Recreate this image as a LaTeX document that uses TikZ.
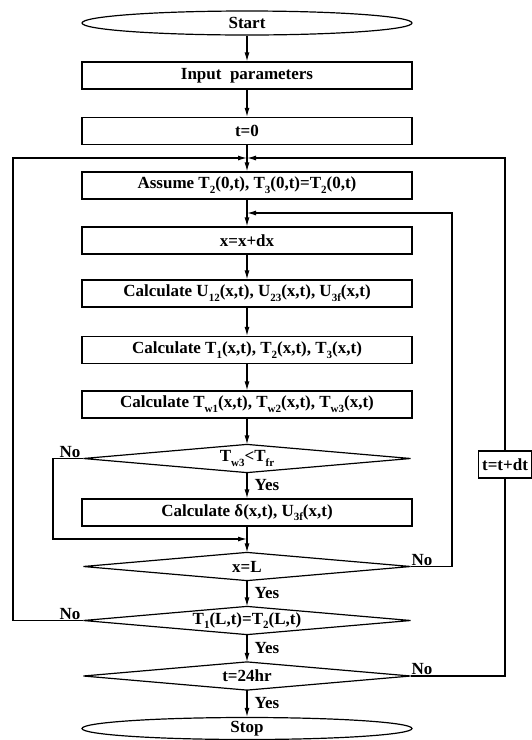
\documentclass[tikz,border=0pt]{standalone}
\usepackage{fontspec}
\setmainfont{Liberation Serif}
\usetikzlibrary{shapes.geometric,arrows.meta}
\newcommand{\sbs}[1]{\raisebox{-0.28em}{\fontsize{11}{11}\selectfont #1}}
\begin{document}
\begin{tikzpicture}[x=1pt,y=-1pt, line width=1.2pt,
  every node/.style={font=\fontsize{17}{20}\selectfont\bfseries},
  procbox/.style={draw, rectangle, minimum width=330pt, minimum height=27pt, inner sep=0pt},
  term/.style={draw, ellipse, minimum width=330pt, minimum height=24pt, inner sep=0pt},
  decbox/.style={rectangle, minimum width=326pt, minimum height=27pt, inner sep=0pt},
  arr/.style={-{Latex[length=9pt,width=5pt]}},
  nolbl/.style={inner sep=0.5pt},
  yeslbl/.style={anchor=west, inner sep=0pt, xshift=7pt}
]
\useasboundingbox (0,0) rectangle (532,740);

% nodes
\node[term]    (start)  at (247,23)    {Start};
\node[procbox] (input)  at (247,75.5)  {Input\ \ parameters};
\node[procbox] (t0)     at (247,131)   {t=0};
\node[procbox] (assume) at (247,185.5) {Assume T\sbs{2}(0,t), T\sbs{3}(0,t)=T\sbs{2}(0,t)};
\node[procbox] (xdx)    at (247,240.5) {x=x+dx};
\node[procbox] (calcu)  at (247,293.5) {Calculate U\sbs{12}(x,t), U\sbs{23}(x,t), U\sbs{3f}(x,t)};
\node[procbox] (calct)  at (247,350)   {Calculate T\sbs{1}(x,t), T\sbs{2}(x,t), T\sbs{3}(x,t)};
\node[procbox] (calctw) at (247,404.5) {Calculate T\sbs{w1}(x,t), T\sbs{w2}(x,t), T\sbs{w3}(x,t)};
\node[decbox]  (d1)     at (247,458.5) {T\sbs{w3}<T\sbs{fr}};
\node[procbox] (delta)  at (247,512.5) {Calculate δ(x,t), U\sbs{3f}(x,t)};
\node[decbox]  (xl)     at (247,566.5) {x=L};
\node[decbox]  (t12)    at (247,620.5) {T\sbs{1}(L,t)=T\sbs{2}(L,t)};
\node[decbox]  (t24)    at (247,676)   {t=24hr};
\node[term, minimum height=22pt] (stop) at (247,728.5) {Stop};
\node[draw, rectangle, minimum width=53pt, minimum height=27pt, inner sep=1pt] (tdt) at (505,464.5) {t=t+dt};

% diamonds
\foreach \d in {d1,xl,t12,t24}
  \draw (\d.west) -- (\d.north) -- (\d.east) -- (\d.south) -- cycle;

% junctions and corners
\coordinate (j1) at (247,158);
\coordinate (j2) at (247,213);
\coordinate (j3) at (247,539);
\coordinate (outl) at (13,158);
\coordinate (innr) at (452,213);
\coordinate (byp) at (53,539);

% main chain
\draw[arr] (start) -- (input);
\draw[arr] (input) -- (t0);
\draw[arr] (t0) -- (assume);
\draw[arr] (assume) -- (xdx);
\draw[arr] (xdx) -- (calcu);
\draw[arr] (calcu) -- (calct);
\draw[arr] (calct) -- (calctw);
\draw[arr] (calctw) -- (d1.north);
\draw[arr] (d1.south) -- node[yeslbl] {Yes} (delta);
\draw[arr] (delta) -- (xl.north);
\draw[arr] (xl.south) -- node[yeslbl] {Yes} (t12.north);
\draw[arr] (t12.south) -- node[yeslbl] {Yes} (t24.north);
\draw[arr] (t24.south) -- node[yeslbl] {Yes} (stop);

% loops
\draw[arr] (d1.west) -| (byp) -- (j3);
\draw[arr] (xl.east) -| (innr) -- (j2);
\draw[arr] (t12.west) -| (outl) -- (j1);
\draw (t24.east) -| (tdt.south);
\draw[arr] (tdt.north) |- (j1);

% No labels
\node[nolbl, anchor=south east] at ([xshift=-2pt]d1.west) {No};
\node[nolbl, anchor=south east] at ([xshift=-2pt]t12.west) {No};
\node[nolbl, anchor=south west] at (xl.east) {No};
\node[nolbl, anchor=south west] at (t24.east) {No};
\end{tikzpicture}
\end{document}
